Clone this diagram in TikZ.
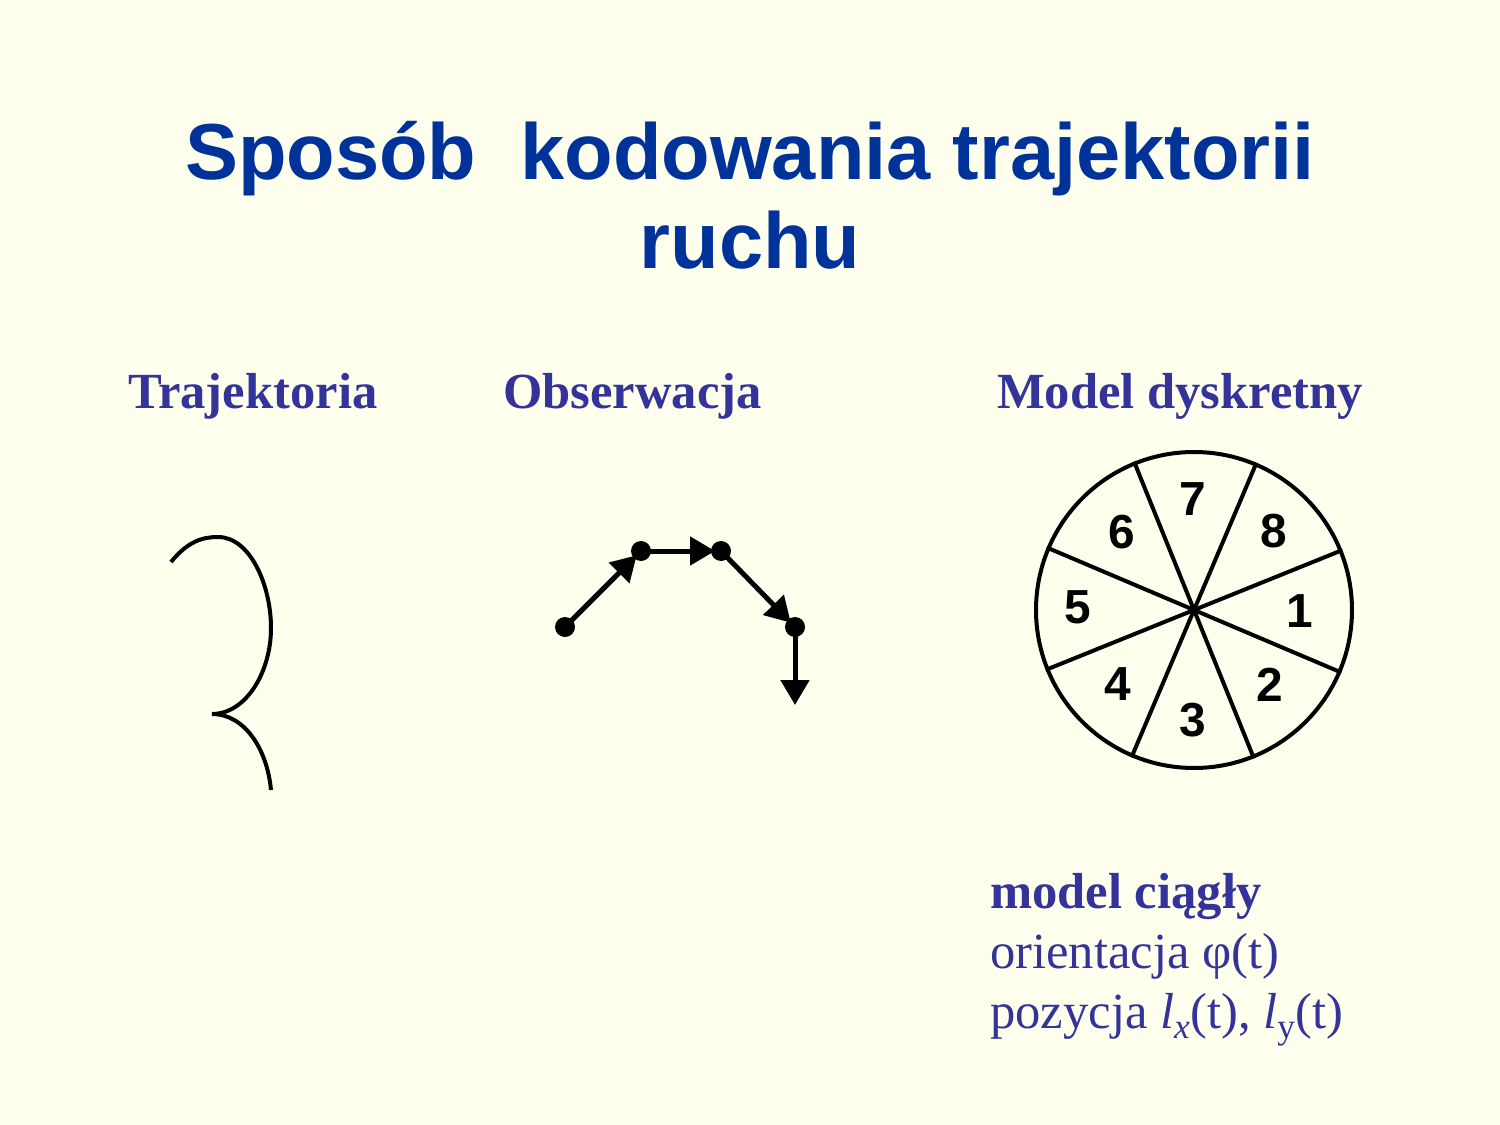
\documentclass[tikz,border=0pt]{standalone}
\usepackage{fontspec}
\setmainfont{Liberation Serif}
\newfontfamily\arialfont{Liberation Sans}
\usetikzlibrary{arrows.meta,shapes.geometric}
\definecolor{slidebg}{HTML}{FFFFEE}
\definecolor{titleblue}{HTML}{003399}
\definecolor{textblue}{HTML}{333399}
\begin{document}
\begin{tikzpicture}[x=0.05cm,y=-0.05cm,
  slidetitle/.style={font=\arialfont\bfseries\fontsize{113}{120}\selectfont, text=titleblue, inner sep=0, anchor=base},
  header/.style={font=\bfseries\fontsize{72}{80}\selectfont, text=textblue, inner sep=0, anchor=base west},
  bodytext/.style={font=\fontsize{72}{80}\selectfont, text=textblue, inner sep=0, anchor=base west},
  pathline/.style={line width=0.2cm, line cap=butt},
  obsdot/.style={circle, fill=black, inner sep=0, minimum size=1cm},
  obsarrow/.style={line width=0.25cm, -{Triangle[length=1.25cm, width=1.4cm]}, shorten >=0.3cm},
  sector/.style={line width=0.2cm},
  digit/.style={font=\arialfont\bfseries\fontsize{68}{70}\selectfont, inner sep=0}
]
% page
\fill[slidebg] (0,0) rectangle (1500,1125);
\useasboundingbox (0,0) rectangle (1500,1125);

% title
\node[slidetitle] (title1) at (750,180) {Sposób\ \ kodowania trajektorii};
\node[slidetitle] (title2) at (750,268) {ruchu};

% column headers
\node[header] (hTraj) at (128,408) {Trajektoria};
\node[header] (hObs) at (503,408) {Obserwacja};
\node[header] (hModel) at (997,408) {Model dyskretny};

% continuous trajectory
\draw[pathline] (171,562) .. controls (188,541) and (203,537) .. (218,537)
  .. controls (250,537) and (271,585) .. (271,628)
  .. controls (271,672) and (246,714) .. (212,714);
\draw[pathline] (212,714) .. controls (244,714) and (267,748) .. (271,790);

% observed samples
\node[obsdot] (o1) at (565,627) {};
\node[obsdot] (o2) at (641,551) {};
\node[obsdot] (o3) at (721,551) {};
\node[obsdot] (o4) at (795,627) {};
\coordinate (o5) at (795,705);
\draw[obsarrow] (o1.center) -- (o2.center);
\draw[obsarrow] (o2.center) -- (o3.center);
\draw[obsarrow] (o3.center) -- (o4.center);
\draw[obsarrow, shorten >=0cm] (o4.center) -- (o5);

% eight-direction code wheel
\node[circle, draw, line width=0.2cm, minimum size=15.8cm, inner sep=0] (wheel) at (1194,610) {};
\foreach \a in {22.5,67.5,112.5,157.5}
  \draw[sector] (wheel.\a) -- (wheel.\a+180);
\node[digit] (d1) at (1300,611) {1};
\node[digit] (d2) at (1270,685) {2};
\node[digit] (d3) at (1193,720) {3};
\node[digit] (d4) at (1118,684) {4};
\node[digit] (d5) at (1078,607) {5};
\node[digit] (d6) at (1122,532) {6};
\node[digit] (d7) at (1193,499) {7};
\node[digit] (d8) at (1274,531) {8};

% continuous model description
\node[bodytext, font=\bfseries\fontsize{72}{80}\selectfont] (m1) at (990,908) {model ciągły};
\node[bodytext] (m2) at (990,968) {orientacja φ(t)};
\node[bodytext] (m3) at (990,1028) {pozycja \textit{l}\textsubscript{\textit{x}}(t), \textit{l}\textsubscript{y}(t)};
\end{tikzpicture}
\end{document}
